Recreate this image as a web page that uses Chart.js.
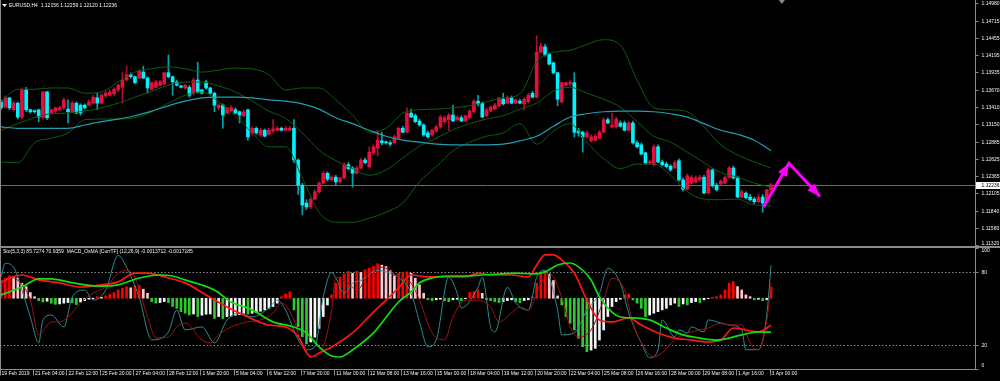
<!DOCTYPE html>
<html>
<head>
<meta charset="utf-8">
<script src="https://cdn.jsdelivr.net/npm/chart.js@4.4.1/dist/chart.umd.min.js"></script>
<style>
  html, body { margin: 0; padding: 0; background: #000; }
  #wrap { position: relative; width: 1000px; height: 381px; overflow: hidden; background: #000; }
  #main { position: absolute; left: 0; top: 0; }
  #sub  { position: absolute; left: 0; top: 247px; }
</style>
</head>
<body>
<div id="wrap">
  <canvas id="main" width="1000" height="247"></canvas>
  <canvas id="sub" width="1000" height="134"></canvas>
</div>
<script>
// ─── Data ────────────────────────────────────────────────────────────────────

const SYMBOL = 'EURUSD,H4';

// one H4 candle per bar, bar 0 = 19 Feb 2019 20:00, bar 184 = 3 Apr 00:00
const opens = [
  1.1349, 1.1341, 1.1355, 1.1337, 1.1347, 1.1326, 1.1368, 1.1337, 1.1335, 1.1337,
  1.1326, 1.1364, 1.1332, 1.1335, 1.1337, 1.1340, 1.1338, 1.1334, 1.1347, 1.1344,
  1.1344, 1.1344, 1.1347, 1.1355, 1.1347, 1.1358, 1.1359, 1.1361, 1.1367, 1.1371,
  1.1382, 1.1390, 1.1387, 1.1385, 1.1394, 1.1385, 1.1368, 1.1371, 1.1374, 1.1376,
  1.1393, 1.1387, 1.1379, 1.1373, 1.1370, 1.1371, 1.1362, 1.1382, 1.1367, 1.1379,
  1.1370, 1.1362, 1.1340, 1.1344, 1.1332, 1.1335, 1.1337, 1.1334, 1.1328, 1.1337,
  1.1302, 1.1309, 1.1299, 1.1306, 1.1300, 1.1305, 1.1306, 1.1309, 1.1306, 1.1306,
  1.1309, 1.1261, 1.1223, 1.1196, 1.1190, 1.1202, 1.1213, 1.1226, 1.1241, 1.1231,
  1.1235, 1.1228, 1.1234, 1.1254, 1.1249, 1.1241, 1.1249, 1.1261, 1.1251, 1.1272,
  1.1279, 1.1290, 1.1288, 1.1287, 1.1287, 1.1294, 1.1309, 1.1303, 1.1332, 1.1328,
  1.1320, 1.1314, 1.1302, 1.1299, 1.1305, 1.1311, 1.1319, 1.1322, 1.1329, 1.1322,
  1.1325, 1.1320, 1.1325, 1.1334, 1.1350, 1.1347, 1.1328, 1.1335, 1.1338, 1.1343,
  1.1353, 1.1347, 1.1355, 1.1347, 1.1350, 1.1346, 1.1349, 1.1362, 1.1356, 1.1424,
  1.1432, 1.1421, 1.1408, 1.1393, 1.1349, 1.1374, 1.1376, 1.1378, 1.1305, 1.1303,
  1.1296, 1.1290, 1.1291, 1.1294, 1.1303, 1.1322, 1.1311, 1.1311, 1.1317, 1.1317,
  1.1306, 1.1317, 1.1287, 1.1284, 1.1272, 1.1257, 1.1254, 1.1281, 1.1258, 1.1255,
  1.1252, 1.1249, 1.1260, 1.1231, 1.1217, 1.1226, 1.1228, 1.1231, 1.1235, 1.1211,
  1.1246, 1.1223, 1.1225, 1.1226, 1.1235, 1.1249, 1.1234, 1.1205, 1.1211, 1.1205,
  1.1202, 1.1198, 1.1205, 1.1199, 1.12156
];
const highs = [
  1.1352, 1.1358, 1.1356, 1.1350, 1.1349, 1.1370, 1.1371, 1.1338, 1.1337, 1.1338,
  1.1365, 1.1365, 1.1338, 1.1341, 1.1343, 1.1355, 1.1352, 1.1350, 1.1349, 1.1346,
  1.1346, 1.1352, 1.1359, 1.1362, 1.1361, 1.1365, 1.1367, 1.1370, 1.1376, 1.1393,
  1.1403, 1.1393, 1.1388, 1.1397, 1.1403, 1.1387, 1.1379, 1.1382, 1.1381, 1.1394,
  1.1420, 1.1388, 1.1382, 1.1374, 1.1376, 1.1374, 1.1385, 1.1409, 1.1368, 1.1382,
  1.1371, 1.1364, 1.1346, 1.1346, 1.1341, 1.1343, 1.1340, 1.1335, 1.1337, 1.1338,
  1.1311, 1.1311, 1.1309, 1.1308, 1.1309, 1.1322, 1.1312, 1.1311, 1.1312, 1.1312,
  1.1322, 1.1263, 1.1226, 1.1201, 1.1204, 1.1216, 1.1228, 1.1244, 1.1243, 1.1237,
  1.1238, 1.1235, 1.1257, 1.1257, 1.1251, 1.1252, 1.1264, 1.1264, 1.1281, 1.1284,
  1.1306, 1.1303, 1.1290, 1.1290, 1.1299, 1.1311, 1.1312, 1.1340, 1.1338, 1.1331,
  1.1323, 1.1316, 1.1305, 1.1308, 1.1314, 1.1329, 1.1328, 1.1332, 1.1344, 1.1328,
  1.1328, 1.1329, 1.1337, 1.1352, 1.1359, 1.1349, 1.1340, 1.1343, 1.1347, 1.1356,
  1.1362, 1.1358, 1.1358, 1.1353, 1.1353, 1.1356, 1.1362, 1.1365, 1.1449, 1.1438,
  1.1436, 1.1423, 1.1409, 1.1394, 1.1379, 1.1379, 1.1381, 1.1393, 1.1309, 1.1305,
  1.1305, 1.1299, 1.1300, 1.1306, 1.1325, 1.1325, 1.1332, 1.1326, 1.1320, 1.1320,
  1.1320, 1.1320, 1.1290, 1.1287, 1.1273, 1.1261, 1.1284, 1.1284, 1.1261, 1.1258,
  1.1254, 1.1260, 1.1263, 1.1234, 1.1240, 1.1238, 1.1237, 1.1238, 1.1238, 1.1249,
  1.1248, 1.1226, 1.1231, 1.1237, 1.1252, 1.1252, 1.1237, 1.1216, 1.1213, 1.1209,
  1.1205, 1.1209, 1.1209, 1.1217, 1.12259
];
const lows = [
  1.1337, 1.1340, 1.1337, 1.1335, 1.1323, 1.1323, 1.1334, 1.1332, 1.1332, 1.1319,
  1.1323, 1.1322, 1.1331, 1.1332, 1.1335, 1.1337, 1.1317, 1.1332, 1.1331, 1.1329,
  1.1338, 1.1343, 1.1346, 1.1337, 1.1346, 1.1355, 1.1358, 1.1358, 1.1364, 1.1347,
  1.1381, 1.1385, 1.1376, 1.1384, 1.1384, 1.1362, 1.1367, 1.1370, 1.1373, 1.1374,
  1.1385, 1.1359, 1.1373, 1.1370, 1.1368, 1.1356, 1.1359, 1.1362, 1.1361, 1.1368,
  1.1361, 1.1334, 1.1337, 1.1309, 1.1331, 1.1334, 1.1331, 1.1317, 1.1326, 1.1291,
  1.1299, 1.1300, 1.1297, 1.1296, 1.1299, 1.1302, 1.1305, 1.1305, 1.1305, 1.1305,
  1.1257, 1.1209, 1.1178, 1.1186, 1.1187, 1.1201, 1.1211, 1.1225, 1.1229, 1.1229,
  1.1223, 1.1226, 1.1232, 1.1246, 1.1220, 1.1240, 1.1248, 1.1255, 1.1249, 1.1269,
  1.1267, 1.1284, 1.1285, 1.1282, 1.1285, 1.1293, 1.1302, 1.1302, 1.1325, 1.1317,
  1.1312, 1.1297, 1.1294, 1.1297, 1.1303, 1.1309, 1.1316, 1.1306, 1.1319, 1.1320,
  1.1319, 1.1319, 1.1323, 1.1332, 1.1343, 1.1325, 1.1326, 1.1334, 1.1337, 1.1341,
  1.1344, 1.1346, 1.1346, 1.1346, 1.1346, 1.1337, 1.1347, 1.1355, 1.1355, 1.1423,
  1.1418, 1.1405, 1.1391, 1.1343, 1.1347, 1.1373, 1.1373, 1.1296, 1.1297, 1.1273,
  1.1294, 1.1288, 1.1290, 1.1293, 1.1302, 1.1316, 1.1309, 1.1309, 1.1311, 1.1305,
  1.1305, 1.1285, 1.1279, 1.1269, 1.1255, 1.1254, 1.1252, 1.1257, 1.1252, 1.1249,
  1.1244, 1.1248, 1.1229, 1.1214, 1.1216, 1.1225, 1.1226, 1.1229, 1.1210, 1.1210,
  1.1220, 1.1214, 1.1223, 1.1225, 1.1234, 1.1232, 1.1204, 1.1204, 1.1202, 1.1199,
  1.1195, 1.1196, 1.1182, 1.1198, 1.12120
];
const closes = [
  1.1340, 1.1355, 1.1340, 1.1347, 1.1326, 1.1367, 1.1337, 1.1334, 1.1334, 1.1326,
  1.1364, 1.1325, 1.1337, 1.1340, 1.1340, 1.1352, 1.1334, 1.1347, 1.1332, 1.1332,
  1.1340, 1.1349, 1.1356, 1.1347, 1.1359, 1.1362, 1.1364, 1.1368, 1.1374, 1.1382,
  1.1390, 1.1387, 1.1378, 1.1396, 1.1385, 1.1370, 1.1378, 1.1379, 1.1379, 1.1393,
  1.1387, 1.1379, 1.1374, 1.1371, 1.1374, 1.1359, 1.1382, 1.1364, 1.1362, 1.1370,
  1.1362, 1.1344, 1.1344, 1.1329, 1.1340, 1.1340, 1.1332, 1.1329, 1.1334, 1.1296,
  1.1309, 1.1302, 1.1306, 1.1297, 1.1306, 1.1308, 1.1309, 1.1306, 1.1309, 1.1309,
  1.1261, 1.1223, 1.1193, 1.1190, 1.1202, 1.1213, 1.1226, 1.1241, 1.1232, 1.1235,
  1.1228, 1.1234, 1.1254, 1.1248, 1.1241, 1.1249, 1.1261, 1.1257, 1.1273, 1.1281,
  1.1291, 1.1287, 1.1287, 1.1285, 1.1296, 1.1309, 1.1303, 1.1332, 1.1326, 1.1319,
  1.1314, 1.1299, 1.1296, 1.1306, 1.1311, 1.1326, 1.1325, 1.1329, 1.1320, 1.1326,
  1.1320, 1.1328, 1.1335, 1.1350, 1.1346, 1.1326, 1.1337, 1.1341, 1.1344, 1.1355,
  1.1346, 1.1355, 1.1347, 1.1352, 1.1347, 1.1353, 1.1359, 1.1356, 1.1424, 1.1433,
  1.1420, 1.1406, 1.1393, 1.1353, 1.1378, 1.1378, 1.1378, 1.1303, 1.1302, 1.1296,
  1.1302, 1.1296, 1.1297, 1.1303, 1.1322, 1.1317, 1.1314, 1.1323, 1.1312, 1.1306,
  1.1317, 1.1287, 1.1281, 1.1270, 1.1257, 1.1258, 1.1281, 1.1258, 1.1254, 1.1251,
  1.1246, 1.1257, 1.1231, 1.1217, 1.1237, 1.1235, 1.1234, 1.1235, 1.1211, 1.1246,
  1.1222, 1.1216, 1.1229, 1.1235, 1.1249, 1.1234, 1.1205, 1.1213, 1.1204, 1.1201,
  1.1198, 1.1205, 1.1196, 1.1216, 1.12236
];

// time axis labels, one every 8 bars
const timeLabelBars = [0, 8, 16, 24, 32, 40, 48, 56, 64, 72, 80, 88, 96, 104, 112, 120, 128, 136, 144, 152, 160, 168, 176, 184];
const timeLabels = [
  '19 Feb 2019', '21 Feb 04:00', '22 Feb 12:00', '25 Feb 20:00', '27 Feb 04:00', '28 Feb 12:00',
  '1 Mar 20:00', '5 Mar 04:00', '6 Mar 12:00', '7 Mar 20:00', '11 Mar 00:00', '12 Mar 08:00',
  '13 Mar 16:00', '15 Mar 00:00', '18 Mar 04:00', '19 Mar 12:00', '20 Mar 20:00', '22 Mar 04:00',
  '25 Mar 08:00', '26 Mar 16:00', '28 Mar 00:00', '29 Mar 08:00', '1 Apr 16:00', '3 Apr 00:00'
];

const priceTicks = [1.14980, 1.14715, 1.14455, 1.14195, 1.13935, 1.13670, 1.13410, 1.13150,
                    1.12885, 1.12625, 1.12365, 1.12105, 1.11840, 1.11580, 1.11320];

// overlays sampled every 4 bars
const lineBars = [0, 4, 8, 12, 16, 20, 24, 28, 32, 36, 40, 44, 48, 52, 56, 60, 64, 68, 72, 76, 80, 84, 88,
                  92, 96, 100, 104, 108, 112, 116, 120, 124, 128, 132, 136, 140, 144, 148, 152, 156, 160,
                  164, 168, 172, 176, 180, 184];
const bbUpper = [1.1349, 1.1368, 1.1368, 1.1370, 1.1370, 1.1362, 1.1364, 1.1379, 1.1394, 1.1399, 1.1402, 1.1399,
                 1.1394, 1.1397, 1.1400, 1.1399, 1.1390, 1.1367, 1.1370, 1.1370, 1.1352, 1.1329, 1.1303, 1.1309,
                 1.1332, 1.1337, 1.1338, 1.1340, 1.1343, 1.1349, 1.1355, 1.1361, 1.1409, 1.1424, 1.1427, 1.1436,
                 1.1443, 1.1435, 1.1382, 1.1340, 1.1337, 1.1334, 1.1311, 1.1284, 1.1269, 1.1258, 1.1249];
const bbMiddle = [1.1306, 1.1316, 1.1325, 1.1331, 1.1332, 1.1335, 1.1340, 1.1347, 1.1356, 1.1365, 1.1374, 1.1379,
                  1.1379, 1.1373, 1.1364, 1.1350, 1.1335, 1.1324, 1.1302, 1.1276, 1.1260, 1.1248, 1.1238, 1.1246,
                  1.1264, 1.1282, 1.1294, 1.1307, 1.1316, 1.1323, 1.1328, 1.1338, 1.1347, 1.1365, 1.1371, 1.1362,
                  1.1353, 1.1341, 1.1319, 1.1297, 1.1288, 1.1273, 1.1257, 1.1242, 1.1235, 1.1226, 1.1220];
const bbLower = [1.1258, 1.1257, 1.1287, 1.1294, 1.1302, 1.1322, 1.1323, 1.1323, 1.1325, 1.1334, 1.1347, 1.1359,
                 1.1364, 1.1349, 1.1328, 1.1302, 1.1281, 1.1281, 1.1234, 1.1182, 1.1167, 1.1167, 1.1173, 1.1182,
                 1.1196, 1.1228, 1.1251, 1.1275, 1.1288, 1.1297, 1.1302, 1.1316, 1.1285, 1.1305, 1.1316, 1.1288,
                 1.1263, 1.1248, 1.1255, 1.1255, 1.1238, 1.1213, 1.1202, 1.1201, 1.1202, 1.1193, 1.1192];
const maSlow = [1.1311, 1.1309, 1.1309, 1.1309, 1.1309, 1.1314, 1.1319, 1.1323, 1.1328, 1.1335, 1.1343, 1.1350,
                1.1355, 1.1356, 1.1356, 1.1355, 1.1352, 1.1350, 1.1346, 1.1338, 1.1325, 1.1316, 1.1306, 1.1297,
                1.1291, 1.1288, 1.1285, 1.1284, 1.1284, 1.1284, 1.1285, 1.1290, 1.1297, 1.1312, 1.1326, 1.1331,
                1.1334, 1.1335, 1.1335, 1.1334, 1.1331, 1.1326, 1.1316, 1.1306, 1.1300, 1.1291, 1.1275];

// hand-drawn arrows (bar index, price)
const arrowBars = [182.2, 188.3, 195.7];
const arrowPrices = [1.1190, 1.1256, 1.1206];
const shiftMarkBar = 186.6;

// Stochastic (5,3,3): main and signal, at turning points
const stochMainBars = [0, 1, 3, 5, 7, 9, 10, 12, 15, 17, 20, 22, 25, 28, 30, 33, 36, 40, 42, 44, 48, 51, 54, 57,
  60, 64, 66, 68, 71, 73, 75, 77, 79, 80, 82, 84, 86, 90, 93, 95, 98, 100, 102, 104, 107, 109, 110, 114, 115,
  117, 118, 121, 123, 126, 128, 130, 133, 134, 137, 140, 143, 145, 148, 150, 153, 155, 157, 158, 161, 162, 164,
  165, 168, 169, 172, 174, 177, 178, 181, 183, 184];
const stochMain = [75.8, 87.3, 84.1, 65.2, 43.0, 21.6, 40.5, 44.6, 34.8, 59.4, 65.2, 56.9, 65.2, 93.9, 84.1, 59.4,
  24.1, 30.6, 48.7, 32.3, 34.8, 21.6, 40.5, 46.3, 43.0, 50.4, 56.9, 48.7, 24.1, 15.9, 18.3, 59.4, 79.9, 75.0,
  62.7, 70.9, 73.3, 81.6, 79.1, 75.8, 62.7, 38.9, 18.3, 24.1, 75.8, 62.7, 50.4, 67.6, 75.8, 34.8, 30.6, 67.6,
  54.5, 48.7, 75.8, 81.6, 48.7, 28.2, 29.8, 48.7, 62.7, 83.2, 70.9, 46.3, 21.6, 9.3, 15.9, 40.5, 26.5, 32.3,
  29.8, 34.8, 30.6, 40.5, 38.0, 36.4, 32.3, 15.9, 15.9, 45.0, 85.7274];
const stochSigBars = [0, 2, 4, 7, 9, 12, 14, 16, 19, 22, 25, 28, 30, 32, 35, 37, 40, 42, 44, 48, 50, 52, 55, 59,
  62, 65, 67, 70, 72, 75, 77, 79, 80, 83, 85, 88, 91, 95, 98, 100, 103, 106, 108, 111, 114, 117, 119, 122, 124,
  126, 129, 131, 134, 136, 138, 141, 144, 146, 149, 151, 153, 156, 158, 161, 163, 165, 169, 172, 174, 177, 179,
  181, 183, 184];
const stochSig = [71.7, 75.8, 73.3, 56.9, 28.2, 38.9, 38.9, 43.0, 54.5, 62.7, 67.6, 79.1, 81.6, 75.8, 43.0, 25.7,
  26.5, 34.8, 38.0, 24.1, 21.6, 28.2, 34.8, 38.9, 40.5, 46.3, 54.5, 40.5, 18.3, 10.1, 18.3, 48.7, 75.8, 70.9,
  65.2, 79.1, 84.1, 76.0, 70.9, 56.9, 29.8, 24.1, 43.0, 56.9, 56.9, 51.2, 38.9, 46.3, 51.2, 48.7, 70.9, 79.1,
  59.4, 34.8, 26.5, 32.3, 56.9, 75.0, 65.2, 38.0, 21.6, 10.1, 13.4, 24.1, 28.2, 30.6, 33.9, 38.0, 36.4, 36.4,
  21.6, 15.9, 40.0, 70.9359];
const stoTicks = [100, 80, 20, 0];
const stoLevels = [80, 20];

// MACD (12,26,9) lines in pips, and the OsMA histogram per bar
const macdBars = [0, 2, 5, 9, 14, 19, 24, 28, 32, 35, 40, 44, 49, 54, 59, 64, 68, 71, 74, 76, 79, 84, 89, 95,
  98, 102, 107, 111, 114, 117, 122, 126, 128, 130, 132, 134, 137, 140, 143, 146, 150, 153, 157, 161, 165, 169,
  172, 175, 178, 181, 184];
const macdMain = [7.8, 10.3, 11.8, 9.3, 7.8, 5.7, 6.8, 8.3, 12.8, 12.8, 10.3, 7.8, 1.7, -4.4, -9.5, -13.6, -14.6,
  -19.4, -29.8, -27.8, -24.7, -17.6, -7.0, 5.2, 11.8, 10.8, 10.8, 10.8, 12.8, 11.8, 11.8, 10.8, 16.9, 22.0,
  22.0, 19.4, 12.8, -0.9, -11.0, -12.0, -10.0, -13.6, -17.6, -20.2, -21.2, -22.2, -21.2, -15.1, -16.1, -17.1,
  -13.712];
const signalBars = [0, 5, 9, 12, 16, 20, 24, 28, 33, 38, 41, 44, 51, 55, 60, 65, 70, 73, 76, 79, 81, 84, 89, 95,
  98, 100, 103, 107, 111, 115, 119, 123, 127, 130, 133, 136, 138, 141, 143, 146, 148, 151, 155, 159, 163, 167,
  171, 174, 177, 181, 184];
const macdSignal = [1.7, 5.7, 9.8, 9.8, 8.3, 6.8, 6.2, 6.8, 10.3, 11.8, 11.3, 9.3, 4.2, -1.9, -5.9, -12.0, -14.6,
  -17.6, -24.7, -29.3, -29.8, -26.2, -17.6, -1.9, 3.2, 7.8, 10.3, 11.3, 11.3, 11.8, 12.3, 12.8, 12.3, 13.4, 16.9,
  17.9, 15.9, 9.3, 0.7, -7.0, -9.5, -10.0, -11.0, -15.1, -18.6, -20.2, -21.2, -20.2, -18.6, -17.1, -17.185];
const osma = [
  9.3, 10.2, 11.4, 11.0, 10.3, 7.6, 5.9, 2.9, 0.8, -1.2,
  -1.9, -1.5, -2.5, -3.1, -2.9, -2.5, -2.2, -2.2, -3.2, -1.9,
  -1.2, -0.5, -0.2, 0.8, 0.5, 1.2, 1.9, 2.9, 4.2, 5.1,
  5.9, 5.3, 6.3, 6.6, 4.6, 2.5, -1.7, -2.5, -2.2, -1.7,
  -2.2, -4.2, -5.1, -6.8, -7.6, -8.5, -8.0, -9.3, -8.6, -8.1,
  -8.0, -10.2, -9.3, -10.3, -9.3, -9.0, -8.6, -8.3, -7.6, -8.0,
  -7.6, -7.3, -6.6, -5.9, -5.1, -4.2, -2.5, 0.8, 2.2, 3.2,
  -5.9, -14.4, -19.5, -23.2, -22.2, -19.8, -15.3, -9.3, -3.4, 1.7,
  7.6, 10.7, 12.4, 13.6, 12.7, 13.7, 13.1, 14.4, 15.3, 16.1,
  17.5, 16.8, 16.1, 14.1, 11.4, 12.7, 13.1, 13.4, 12.7, 10.2,
  6.8, 2.5, -0.8, -1.2, -0.8, -0.5, -1.2, -1.7, -0.8, -0.5,
  -1.2, -0.2, 2.9, 3.4, 4.2, 2.5, -0.8, -1.2, -1.7, -2.2,
  -1.7, -1.2, -0.8, -1.7, -2.2, -1.2, -0.8, 0.8, 7.6, 12.7,
  13.6, 12.4, 9.0, 1.2, -3.4, -9.3, -12.7, -16.1, -20.3, -24.6,
  -27.1, -26.3, -25.4, -21.2, -16.1, -9.3, -4.2, -1.7, -0.5, 1.7,
  2.2, -0.8, -2.5, -5.1, -9.3, -8.5, -7.6, -6.8, -5.9, -5.1,
  -3.4, -2.5, -4.2, -2.9, -3.4, -2.2, -1.7, -2.2, -0.8, -0.2,
  0.5, 0.8, 1.7, 4.2, 7.6, 8.5, 5.9, 4.2, 1.7, 0.8,
  -0.8, -0.5, -1.2, -0.8, 5.6
];

// ─── Style ───────────────────────────────────────────────────────────────────

const FONT = "5px 'Liberation Sans', Arial, sans-serif";
const FG = '#f2f2f2';
const FRAME = '#8a8a8a';
const UP_BODY = '#e3103f', UP_WICK = '#b00c30';
const DN_BODY = '#00f2ff', DN_WICK = '#00a5ae';
const BB_COLOR = '#0e5c12';
const MA_COLOR = '#1e9fb2';

const bars = opens.map((_, i) => i);
const last = bars.length - 1;
const pts = (xs, ys) => xs.map((b, k) => ({ x: b, y: ys[k] }));
const X_SCALE = { type: 'linear', min: -0.25, max: 232.75, offset: false, display: false };

function arrowHead(ctx, from, to, len, half) {
  const a = Math.atan2(to[1] - from[1], to[0] - from[0]);
  const bx = to[0] - len * Math.cos(a), by = to[1] - len * Math.sin(a);
  ctx.beginPath();
  ctx.moveTo(to[0], to[1]);
  ctx.lineTo(bx + half * Math.sin(a), by - half * Math.cos(a));
  ctx.lineTo(bx - half * Math.sin(a), by + half * Math.cos(a));
  ctx.closePath();
  ctx.fill();
}

function rightLabels(ctx, scale, values, fmt, x0, top, bottom) {
  ctx.font = FONT; ctx.fillStyle = FG; ctx.textAlign = 'left'; ctx.textBaseline = 'middle';
  ctx.strokeStyle = FRAME; ctx.lineWidth = 1;
  values.forEach(v => {
    const y = Math.round(scale.getPixelForValue(v)) + 0.5;
    ctx.beginPath(); ctx.moveTo(x0, y); ctx.lineTo(x0 + 3, y); ctx.stroke();
    ctx.fillText(fmt(v), x0 + 6, Math.min(Math.max(y, top), bottom));
  });
}

// ─── Price window ────────────────────────────────────────────────────────────

const priceFrame = {
  id: 'priceFrame',
  beforeDatasetsDraw(chart) {
    const { ctx, chartArea: a, scales: { y } } = chart;
    const yb = Math.round(y.getPixelForValue(closes[last])) + 0.5;
    ctx.save();
    ctx.strokeStyle = '#5f6b76'; ctx.lineWidth = 1;
    ctx.beginPath(); ctx.moveTo(a.left, yb); ctx.lineTo(a.right, yb); ctx.stroke();
    ctx.restore();
  },
  afterDraw(chart) {
    const { ctx, chartArea: a, scales: { x, y } } = chart;
    const right = Math.round(a.right) + 0.5;
    ctx.save();

    // arrow heads
    const ap = arrowBars.map((b, k) => [x.getPixelForValue(b), y.getPixelForValue(arrowPrices[k])]);
    ctx.fillStyle = '#ff00ff';
    for (let k = 1; k < ap.length; k++) arrowHead(ctx, ap[k - 1], ap[k], 13, 5);

    // frame
    ctx.strokeStyle = FRAME; ctx.lineWidth = 1;
    ctx.beginPath();
    ctx.moveTo(0.5, 0); ctx.lineTo(0.5, a.bottom);
    ctx.moveTo(right, 0); ctx.lineTo(right, a.bottom);
    ctx.stroke();
    ctx.fillStyle = FRAME;
    ctx.fillRect(0, a.bottom - 1, chart.width, 1);

    // shift marker
    const sx = x.getPixelForValue(shiftMarkBar);
    ctx.beginPath(); ctx.moveTo(sx - 3, 0); ctx.lineTo(sx + 3, 0); ctx.lineTo(sx, 4); ctx.closePath(); ctx.fill();

    // price scale
    rightLabels(ctx, y, priceTicks, v => v.toFixed(5), right, 3, a.bottom - 3);

    // current price tag
    const yb = Math.round(y.getPixelForValue(closes[last])) + 0.5;
    ctx.fillStyle = '#ffffff';
    ctx.fillRect(right + 0.5, yb - 3.5, chart.width - right, 7);
    ctx.fillStyle = '#000000';
    ctx.fillText(closes[last].toFixed(5), right + 6, yb);

    // title
    ctx.fillStyle = FG;
    ctx.beginPath(); ctx.moveTo(2, 4); ctx.lineTo(7, 4); ctx.lineTo(4.5, 7); ctx.closePath(); ctx.fill();
    ctx.textAlign = 'left'; ctx.textBaseline = 'middle'; ctx.font = FONT;
    const ohlc = [opens[last], highs[last], lows[last], closes[last]].map(v => v.toFixed(5)).join(' ');
    ctx.fillText(SYMBOL + '  ' + ohlc, 9, 5.5);
    ctx.restore();
  }
};

new Chart(document.getElementById('main'), {
  type: 'bar',
  data: {
    datasets: [
      { type: 'line', label: 'Arrow', data: pts(arrowBars, arrowPrices), borderColor: '#ff00ff',
        borderWidth: 3, pointRadius: 0, order: 0 },
      { type: 'line', label: 'MA', data: pts(lineBars, maSlow), borderColor: MA_COLOR, borderWidth: 1.2,
        pointRadius: 0, cubicInterpolationMode: 'monotone', order: 1 },
      { type: 'line', label: 'BB upper', data: pts(lineBars, bbUpper), borderColor: BB_COLOR, borderWidth: 1,
        pointRadius: 0, cubicInterpolationMode: 'monotone', order: 2 },
      { type: 'line', label: 'BB middle', data: pts(lineBars, bbMiddle), borderColor: BB_COLOR, borderWidth: 1,
        pointRadius: 0, cubicInterpolationMode: 'monotone', order: 2 },
      { type: 'line', label: 'BB lower', data: pts(lineBars, bbLower), borderColor: BB_COLOR, borderWidth: 1,
        pointRadius: 0, cubicInterpolationMode: 'monotone', order: 2 },
      { label: 'Body',
        data: bars.map(i => ({ x: i, y: [Math.min(opens[i], closes[i]), Math.max(opens[i], closes[i])] })),
        backgroundColor: bars.map(i => closes[i] > opens[i] ? UP_BODY : DN_BODY),
        maxBarThickness: 3, minBarLength: 1, grouped: false, categoryPercentage: 1, barPercentage: 1, order: 5 },
      { label: 'Wick',
        data: bars.map(i => ({ x: i, y: [lows[i], highs[i]] })),
        backgroundColor: bars.map(i => closes[i] > opens[i] ? UP_WICK : DN_WICK),
        maxBarThickness: 1, grouped: false, categoryPercentage: 1, barPercentage: 1, order: 6 },
    ],
  },
  options: {
    responsive: false, maintainAspectRatio: false, animation: false, events: [],
    layout: { padding: { left: 0, right: 25, top: 0, bottom: 0 } },
    plugins: { legend: { display: false }, tooltip: { enabled: false } },
    scales: {
      x: X_SCALE,
      y: { type: 'linear', min: 1.11295, max: 1.1503, display: false },
    },
  },
  plugins: [priceFrame],
});

// ─── Indicator window ────────────────────────────────────────────────────────

const osmaColors = osma.map((v, i) => {
  const prev = i ? osma[i - 1] : v;
  if (v >= 0) return v >= prev ? '#ff0000' : '#ffc4cc';
  return v <= prev ? '#30c830' : '#f4f4f4';
});

const subFrame = {
  id: 'subFrame',
  beforeDatasetsDraw(chart) {
    const { ctx, chartArea: a, scales: { sto } } = chart;
    ctx.save();
    ctx.strokeStyle = '#8a8a8a'; ctx.lineWidth = 1; ctx.setLineDash([1.5, 2]);
    stoLevels.forEach(v => {
      const y = Math.round(sto.getPixelForValue(v)) + 0.5;
      ctx.beginPath(); ctx.moveTo(a.left, y); ctx.lineTo(a.right, y); ctx.stroke();
    });
    ctx.restore();
  },
  afterDraw(chart) {
    const { ctx, chartArea: a, scales: { x, sto } } = chart;
    const right = Math.round(a.right) + 0.5;
    const bottom = Math.round(a.bottom) + 0.5;
    ctx.save();
    ctx.fillStyle = FRAME;
    ctx.fillRect(0, 0, chart.width, 1);
    ctx.strokeStyle = FRAME; ctx.lineWidth = 1;
    ctx.beginPath();
    ctx.moveTo(0.5, 0); ctx.lineTo(0.5, bottom);
    ctx.moveTo(right, 0); ctx.lineTo(right, bottom);
    ctx.moveTo(0, bottom); ctx.lineTo(right, bottom);
    ctx.stroke();

    rightLabels(ctx, sto, stoTicks, v => String(v), right, a.top + 3, a.bottom - 3);

    // time axis
    ctx.textAlign = 'left'; ctx.textBaseline = 'middle'; ctx.fillStyle = FG; ctx.font = FONT;
    timeLabelBars.forEach((b, k) => {
      const px = x.getPixelForValue(b);
      const tx = Math.round(px - 1.5) + 0.5;
      ctx.beginPath(); ctx.moveTo(tx, bottom); ctx.lineTo(tx, bottom + 6); ctx.stroke();
      ctx.fillText(timeLabels[k], px + 0.5, bottom + 4.5);
    });

    // indicator caption
    const sLast = stochMain[stochMain.length - 1], gLast = stochSig[stochSig.length - 1];
    const mLast = macdMain[macdMain.length - 1] / 10000, qLast = macdSignal[macdSignal.length - 1] / 10000;
    ctx.fillText('Sto(5,3,3) ' + sLast.toFixed(4) + ' ' + gLast.toFixed(4) + '  MACD_OsMA [CurrTF] (12,26,9) ' +
      mLast.toFixed(7) + ' ' + qLast.toFixed(7), 3, 5);
    ctx.restore();
  }
};

new Chart(document.getElementById('sub'), {
  type: 'bar',
  data: {
    datasets: [
      { type: 'line', label: 'MACD signal', data: pts(signalBars, macdSignal), yAxisID: 'macd',
        borderColor: '#10e010', borderWidth: 1.7, pointRadius: 0, cubicInterpolationMode: 'monotone', order: 0 },
      { type: 'line', label: 'MACD main', data: pts(macdBars, macdMain), yAxisID: 'macd',
        borderColor: '#ff1515', borderWidth: 1.7, pointRadius: 0, cubicInterpolationMode: 'monotone', order: 1 },
      { type: 'line', label: 'Stoch signal', data: pts(stochSigBars, stochSig), yAxisID: 'sto',
        borderColor: '#a01010', borderWidth: 1, pointRadius: 0, cubicInterpolationMode: 'monotone', order: 2 },
      { type: 'line', label: 'Stoch main', data: pts(stochMainBars, stochMain), yAxisID: 'sto',
        borderColor: '#2c8c92', borderWidth: 1, pointRadius: 0, cubicInterpolationMode: 'monotone', order: 3 },
      { label: 'OsMA', data: bars.map(i => ({ x: i, y: osma[i] })), yAxisID: 'macd',
        backgroundColor: osmaColors, maxBarThickness: 2, grouped: false,
        categoryPercentage: 1, barPercentage: 1, order: 5 },
    ],
  },
  options: {
    responsive: false, maintainAspectRatio: false, animation: false, events: [],
    layout: { padding: { left: 0, right: 25, top: 1, bottom: 12 } },
    plugins: { legend: { display: false }, tooltip: { enabled: false } },
    scales: {
      x: X_SCALE,
      sto: { type: 'linear', axis: 'y', position: 'right', min: 0, max: 100, display: false },
      macd: { type: 'linear', axis: 'y', position: 'right', min: -35.9, max: 25.5, display: false },
    },
  },
  plugins: [subFrame],
});
</script>
</body>
</html>
